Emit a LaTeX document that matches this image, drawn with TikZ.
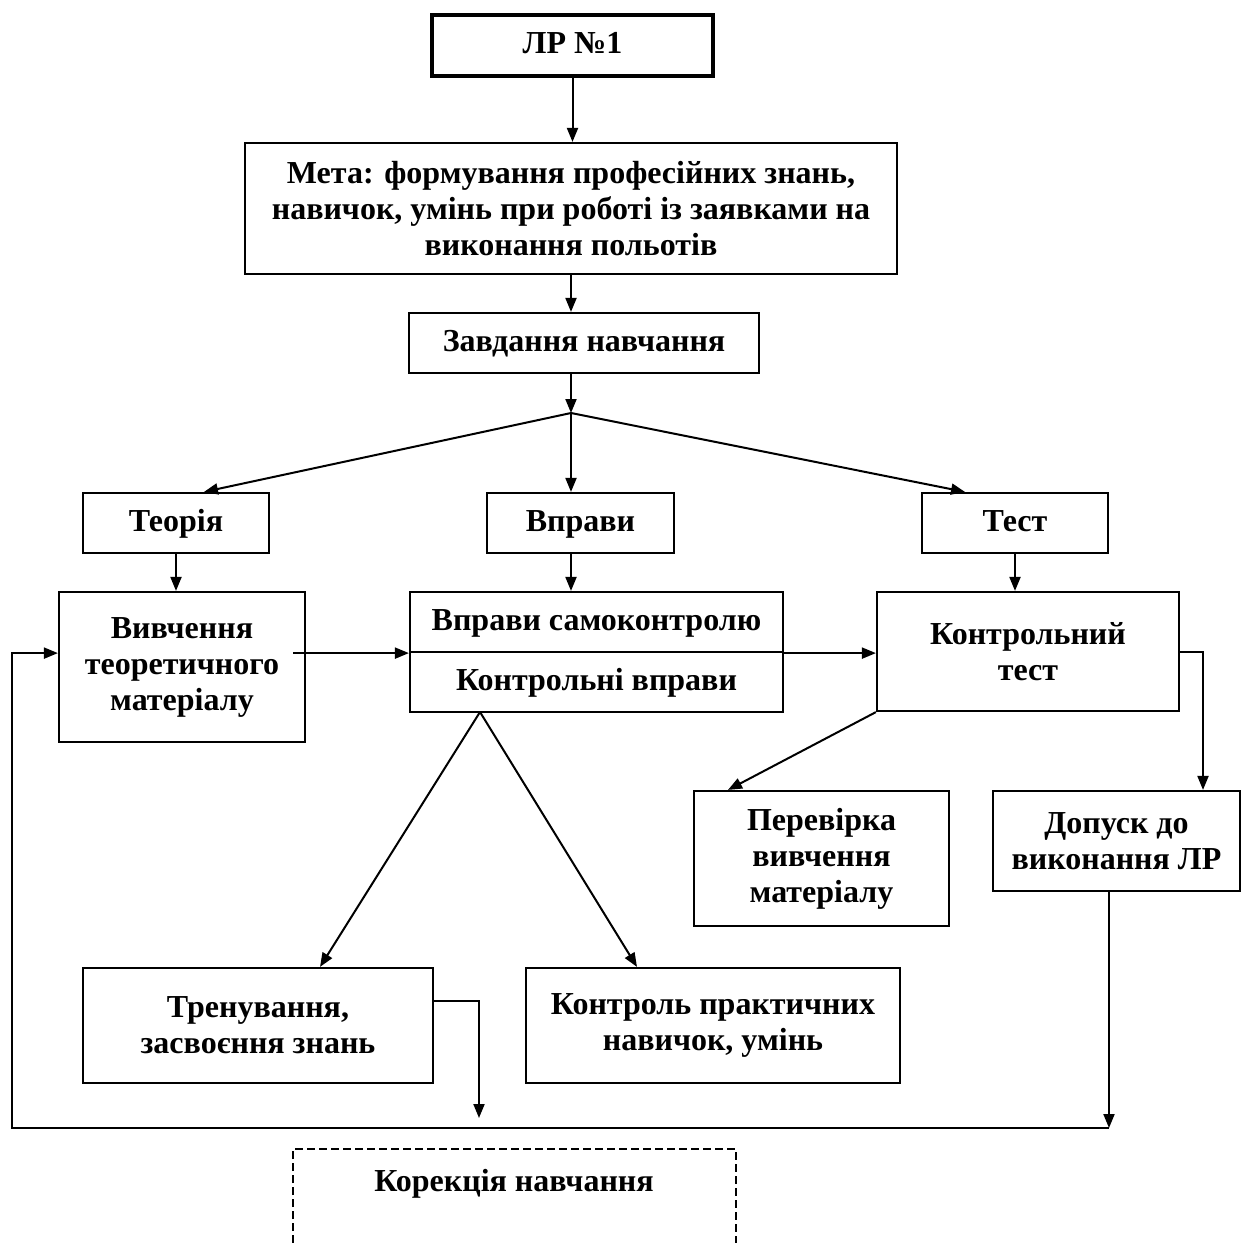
\documentclass[tikz,border=0pt]{standalone}
\usepackage{fontspec}
\setmainfont{Liberation Serif}
\usetikzlibrary{arrows.meta}

\begin{document}
\begin{tikzpicture}[x=0.5pt,y=-0.5pt,
  >={Triangle[length=7pt,width=5.5pt]},
  font=\bfseries\fontsize{16}{18}\selectfont,
  box/.style={draw, line width=1.1pt, align=center, inner sep=2pt},
  one/.style={text height=11.5pt, text depth=3.5pt},
  link/.style={->, line width=1pt}]

\useasboundingbox (0,0) rectangle (1241,1243);

% Top boxes
\node[box, one, line width=2pt, minimum width=140.5pt, minimum height=30.5pt] (lr) at (572.5,45.5) {ЛР №1};
\node[box, minimum width=326pt, minimum height=65.5pt] (meta) at (571,208.5) {Мета: формування професійних знань,\\навичок, умінь при роботі із заявками на\\виконання польотів};
\node[box, one, minimum width=175pt, minimum height=30pt] (task) at (584,343) {Завдання навчання};

% Second row
\node[box, one, minimum width=93pt, minimum height=30pt] (theory) at (176,523) {Теорія};
\node[box, one, minimum width=93.5pt, minimum height=30pt] (exer) at (580.5,523) {Вправи};
\node[box, one, minimum width=93pt, minimum height=30pt] (test) at (1015,523) {Тест};

% Third row
\node[box, minimum width=123pt, minimum height=75pt] (study) at (182,667) {Вивчення\\теоретичного\\матеріалу};
\node[box, one, minimum width=186.5pt, minimum height=30pt] (selfex) at (596.5,622) {Вправи самоконтролю};
\node[box, one, minimum width=186.5pt, minimum height=30pt] (ctrlex) at (596.5,682) {Контрольні вправи};
\node[box, minimum width=151pt, minimum height=59.5pt] (ctest) at (1028,651.5) {Контрольний\\тест};

% Fourth row
\node[box, minimum width=127.5pt, minimum height=67.5pt] (perev) at (821.5,858.5) {Перевірка\\вивчення\\матеріалу};
\node[box, minimum width=123.5pt, minimum height=50pt] (dopusk) at (1116.5,841) {Допуск до\\виконання ЛР};
\node[box, minimum width=175pt, minimum height=57.5pt] (train) at (258,1025.5) {Тренування,\\засвоєння знань};
\node[box, minimum width=187pt, minimum height=57.5pt] (ctrlpr) at (713,1025.5) {Контроль практичних\\навичок, умінь};

% Correction
\node[one] (korek) at (514,1183) {Корекція навчання};
\draw[line width=0.9pt, dash pattern=on 4pt off 2pt] (293,1243) |- (736,1149) -- (736,1243);

% Vertical links
\coordinate (fork) at (571,413);
\draw[link] (lr.south) -- (lr.south |- meta.north);
\draw[link] (meta.south) -- (meta.south |- task.north);
\draw[link] (meta.south |- task.south) -- (fork);
\draw[link] (fork) -- ([xshift=14pt]theory.north);
\draw[link] (fork) -- (fork |- exer.north);
\draw[link] (fork) -- ([xshift=-25pt]test.north);
\draw[link] (theory.south) -- (theory.south |- study.north);
\draw[link] (fork |- exer.south) -- (fork |- selfex.north);
\draw[link] (test.south) -- (test.south |- ctest.north);

% Horizontal links
\draw[link] ([xshift=-6.5pt]study.east |- selfex.south) -- (selfex.south west);
\draw[link] (selfex.south east) -- (selfex.south east -| ctest.west);

% Lower links
\coordinate (apex) at (480,712);
\draw[link] (apex) -- ([xshift=31pt]train.north);
\draw[link] (apex) -- ([xshift=-38pt]ctrlpr.north);
\draw[link] (ctest.south west) -- ([xshift=-46.75pt]perev.north);
\draw[link] (ctest.east) -| ([xshift=43.25pt]dopusk.north);

% Feedback loop
\coordinate (backL) at (12,1128);
\coordinate (backR) at (1109,1128);
\coordinate (drop) at (479,1118);
\draw[link] (backR |- dopusk.south) -- (backR);
\draw[link] (backR) -- (backL) |- (study.west |- selfex.south);
\draw[link] ([yshift=12.25pt]train.east) -| (drop);

\end{tikzpicture}
\end{document}
